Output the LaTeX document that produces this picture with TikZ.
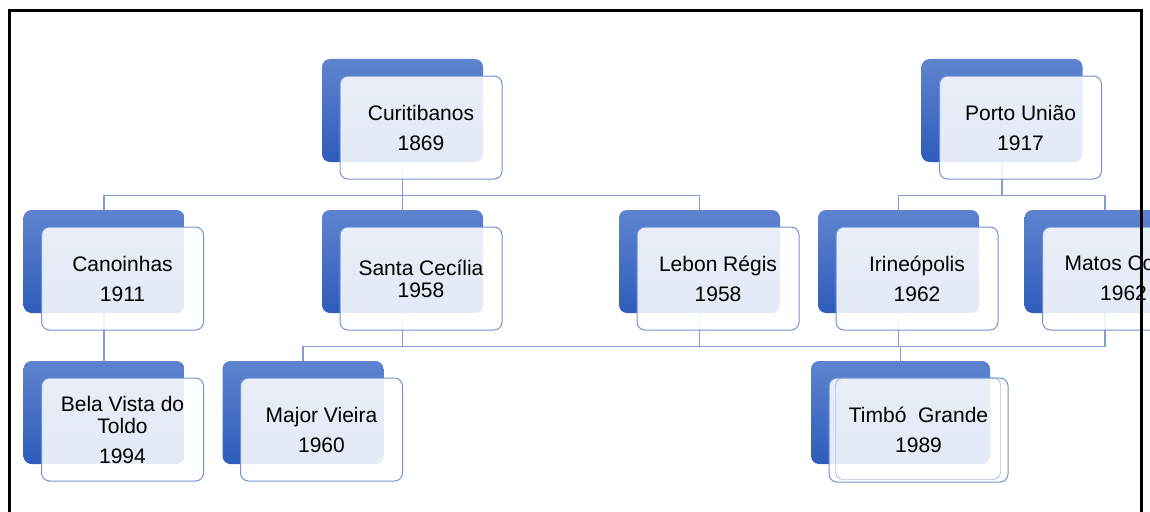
\documentclass[tikz,border=0pt]{standalone}
\usepackage{fontspec}
\setmainfont{Liberation Sans}
\usetikzlibrary{backgrounds}
\definecolor{boxtop}{RGB}{94,132,207}
\definecolor{boxbot}{RGB}{46,92,188}
\definecolor{boxline}{RGB}{112,146,210}
\definecolor{linkblue}{RGB}{132,158,212}
\begin{document}
\begin{tikzpicture}[x=1pt,y=-1pt,
    back/.style={rounded corners=8pt,minimum width=161pt,minimum height=103pt,inner sep=0pt,top color=boxtop,bottom color=boxbot},
    front/.style={rounded corners=8pt,minimum width=162pt,minimum height=103pt,inner sep=0pt,draw=boxline,line width=1pt,
      fill=white,fill opacity=0.87,text opacity=1,align=center,font=\fontsize{21}{30}\selectfont},
    link/.style={draw=linkblue,line width=1.3pt}]
  \useasboundingbox (0,0) rectangle (1150,511);
  \clip (0,0) rectangle (1150,511);
       \node[back] (curD) at (402.5,110.5) {};
       \node[front] (cur) at ([shift={(18.5,17)}]curD.center) {Curitibanos\\1869};
       \node[back] (porD) at (1002,110.5) {};
       \node[front] (por) at ([shift={(18.5,17)}]porD.center) {Porto União\\1917};
       \node[back] (canD) at (104,261.5) {};
       \node[front] (can) at ([shift={(18.5,17)}]canD.center) {Canoinhas\\1911};
       \node[back] (sceD) at (402.5,261.5) {};
       \node[front] (sce) at ([shift={(18.5,17)}]sceD.center) {Santa Cecília\\[-8pt]1958};
       \node[back] (lebD) at (699.5,261.5) {};
       \node[front] (leb) at ([shift={(18.5,17)}]lebD.center) {Lebon Régis\\1958};
       \node[back] (iriD) at (898.5,261.5) {};
       \node[front] (iri) at ([shift={(18.5,17)}]iriD.center) {Irineópolis\\1962};
       \node[back] (matD) at (1105,261.5) {};
       \node[front] (mat) at ([shift={(18.5,17)}]matD.center) {Matos Costa\\1962};
       \node[back] (belD) at (104,412.5) {};
       \node[front] (bel) at ([shift={(18.5,17)}]belD.center) {Bela Vista do\\[-8pt]Toldo\\1994};
       \node[back] (majD) at (303,412.5) {};
       \node[front] (maj) at ([shift={(18.5,17)}]majD.center) {Major Vieira\\1960};
       \node[back,minimum width=179pt] (timD) at (900.5,412.5) {};
       \node[front,minimum width=179pt,minimum height=104pt] (tim) at (918.5,430) {Timbó\ \ Grande\\1989};
       \draw[boxline,rounded corners=8pt] ([shift={(7,0)}]tim.north west) rectangle ([shift={(-8,-3)}]tim.south east);
  \begin{scope}[on background layer]
       \draw[link] (curD.south) -- ++(0,33) -| (canD.north);
       \draw[link] (curD.south) -- ++(0,33) -| (sceD.north);
       \draw[link] (curD.south) -- ++(0,33) -| (lebD.north);
       \draw[link] (porD.south) -- ++(0,33) -| (iriD.north);
       \draw[link] (porD.south) -- ++(0,33) -| (matD.north);
       \draw[link] (canD.south) -- (belD.north);
       \draw[link] (sceD.south) -- ++(0,33) -| (majD.north);
       \draw[link] (sceD.south) -- ++(0,33) -| (timD.north);
       \draw[link] (lebD.south) -- ++(0,33) -| (timD.north);
       \draw[link] (iriD.south) -- ++(0,33) -| (timD.north);
       \draw[link] (matD.south) -- ++(0,33) -| (timD.north);
  \end{scope}
       \draw[line width=2.2pt] (9.5,530) -- (9.5,10.5) -- (1141.5,10.5) -- (1141.5,530);
\end{tikzpicture}
\end{document}
